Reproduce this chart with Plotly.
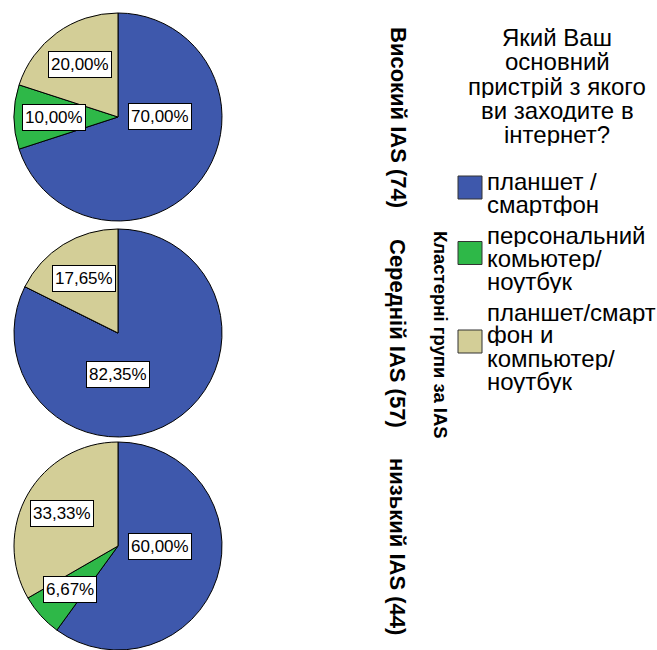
import math
import plotly.graph_objects as go

# ---------------- data ----------------
categories = ["планшет / смартфон",
              "персональний комьютер/ ноутбук",
              "планшет/смартфон и компьютер/ ноутбук"]
legend_lines = [["планшет /", "смартфон"],
                ["персональний", "комьютер/", "ноутбук"],
                ["планшет/смарт", "фон и", "компьютер/", "ноутбук"]]
legend_title_lines = ["Який Ваш", "основний", "пристрій з якого",
                      "ви заходите в", "інтернет?"]
groups = ["Високий IAS (74)", "Середній IAS (57)", "низький IAS (44)"]
group_axis_title = "Кластерні групи за IAS"
values_high = [70.00, 10.00, 20.00]
values_mid = [82.35, 0.00, 17.65]
values_low = [60.00, 6.67, 33.33]
group_values = [values_high, values_mid, values_low]

# ---------------- style / layout ----------------
W, H = 657, 650
colors = ["#3E58AC", "#2EB848", "#D3CE97"]
FONT = "Liberation Sans, Arial, sans-serif"
pie_cx = 118
pie_r = 104
pie_cy = [117, 333, 546]


def px(x):
    return x / W


def py(y):
    return 1 - y / H


fig = go.Figure()
annotations = []
shapes = []

for gi, vals in enumerate(group_values):
    cy = pie_cy[gi]
    dom_x = [max(0, px(pie_cx - pie_r)), min(1, px(pie_cx + pie_r))]
    dom_y = [max(0, py(cy + pie_r)), min(1, py(cy - pie_r))]
    fig.add_trace(go.Pie(
        labels=categories, values=vals, sort=False, direction="clockwise",
        rotation=0, textinfo="none", showlegend=False, hole=0,
        marker=dict(colors=colors, line=dict(color="black", width=1)),
        domain=dict(x=dom_x, y=dom_y), hoverinfo="label+percent",
    ))
    total = sum(vals)
    cum = 0.0
    for v in vals:
        if v <= 0:
            continue
        frac = v / total
        mid = (cum + frac / 2) * 360.0
        if frac > 0.5:
            ang = round(mid / 90.0) * 90.0
            dist = 0.4 * pie_r
        else:
            ang = mid
            dist = 0.62 * pie_r
        cum += frac
        t = math.radians(ang)
        lx = pie_cx + dist * math.sin(t)
        ly = cy - dist * math.cos(t)
        annotations.append(dict(
            x=px(lx), y=py(ly), xref="paper", yref="paper",
            text=f"{v:.2f}".replace(".", ",") + "%", showarrow=False,
            font=dict(family=FONT, size=17, color="black"),
            bgcolor="white", bordercolor="black", borderwidth=1, borderpad=2,
            height=21, valign="middle",
            xanchor="center", yanchor="middle"))
    # group label (rotated)
    annotations.append(dict(
        x=px(398), y=py(cy), xref="paper", yref="paper", text=groups[gi],
        showarrow=False, textangle=90,
        font=dict(family=FONT, size=22, color="black", weight="bold"),
        xanchor="center", yanchor="middle"))

annotations.append(dict(
    x=px(440), y=py(335), xref="paper", yref="paper", text=group_axis_title,
    showarrow=False, textangle=90,
    font=dict(family=FONT, size=18.5, color="black", weight="bold"),
    xanchor="center", yanchor="middle"))

# legend title
for i, line in enumerate(legend_title_lines):
    annotations.append(dict(
        x=px(557), y=py(37 + 24.3 * i), xref="paper", yref="paper", text=line,
        showarrow=False, font=dict(family=FONT, size=24, color="black"),
        height=24, borderpad=0, valign="middle",
        xanchor="center", yanchor="middle"))

# legend items
y0 = 181
line_h = 23
for ci, lines in enumerate(legend_lines):
    ys = [y0 + line_h * j for j in range(len(lines))]
    for j, line in enumerate(lines):
        annotations.append(dict(
            x=px(486), y=py(ys[j]), xref="paper", yref="paper", text=line,
            showarrow=False, font=dict(family=FONT, size=24, color="black"),
            height=line_h, borderpad=0, valign="middle",
            xanchor="left", yanchor="middle"))
    bc = (ys[0] + ys[-1]) / 2 - 5
    shapes.append(dict(
        type="rect", xref="paper", yref="paper",
        x0=px(458), x1=px(482), y0=py(bc + 11.5), y1=py(bc - 11.5),
        fillcolor=colors[ci], line=dict(color="#333333", width=1)))
    y0 = ys[-1] + 31

fig.update_layout(
    width=W, height=H, margin=dict(l=0, r=0, t=0, b=0),
    paper_bgcolor="white", plot_bgcolor="white",
    annotations=annotations, shapes=shapes, showlegend=False,
)

fig.write_html("out.html")
